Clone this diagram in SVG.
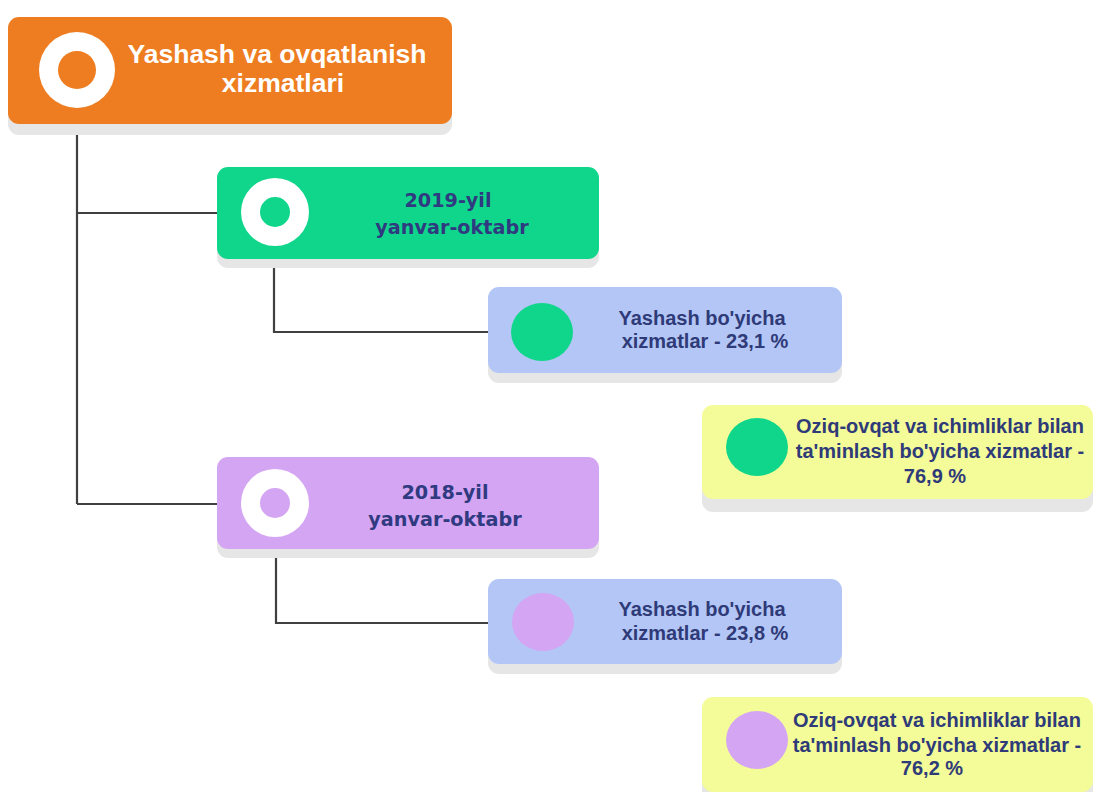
<svg xmlns="http://www.w3.org/2000/svg" width="1095" height="792" viewBox="0 0 1095 792">
<style>
.sh{fill:#e6e6e6}
.t{font-family:"Liberation Sans",Arial,sans-serif;font-weight:bold;text-anchor:middle}
.w{fill:#ffffff;font-size:26.5px}
.d{fill:#2f3a78;font-size:20px}
.y{font-family:"DejaVu Sans",sans-serif;font-weight:bold;text-anchor:middle;fill:#2f3a80;font-size:19.2px}
.c{fill:none;stroke:#404040;stroke-width:2.2}
</style>
<rect width="1095" height="792" fill="#ffffff"/>
<g id="connectors">
<path class="c" d="M77 124 V504 M77 213 H217 M77 504 H217"/>
<path class="c" d="M274 259 V332 H488"/>
<path class="c" d="M276 549 V623 H488"/>
</g>
<g id="root">
<rect class="sh" x="8" y="27" width="444" height="108" rx="11"/>
<rect x="8" y="17" width="444" height="107" rx="11" fill="#ee7d21"/>
<circle cx="77" cy="70" r="38" fill="#ffffff"/>
<circle cx="77" cy="70" r="19" fill="#ee7d21"/>
<text class="t w" x="277" y="63">Yashash va ovqatlanish</text>
<text class="t w" x="283" y="92">xizmatlari</text>
</g>
<g id="y2019">
<rect class="sh" x="217" y="176" width="382" height="92" rx="11"/>
<rect x="217" y="167" width="382" height="92" rx="11" fill="#10d68b"/>
<circle cx="275" cy="212" r="34" fill="#ffffff"/>
<circle cx="275" cy="212" r="15" fill="#10d68b"/>
<text class="y" x="448" y="207">2019-yil</text>
<text class="y" x="452" y="234">yanvar-oktabr</text>
</g>
<g id="y2019-yashash">
<rect class="sh" x="488" y="297" width="354" height="86" rx="11"/>
<rect x="488" y="287" width="354" height="86" rx="11" fill="#b3c6f5"/>
<ellipse cx="542" cy="332" rx="31" ry="29" fill="#10d68b"/>
<text class="t d" x="702" y="325">Yashash bo'yicha</text>
<text class="t d" x="705" y="348">xizmatlar - 23,1 %</text>
</g>
<g id="y2019-oziq">
<rect class="sh" x="702" y="415" width="391" height="97" rx="11"/>
<rect x="702" y="405" width="391" height="94" rx="11" fill="#f4fc99"/>
<ellipse cx="757" cy="447" rx="31" ry="29" fill="#10d68b"/>
<text class="t d" x="940" y="433">Oziq-ovqat va ichimliklar bilan</text>
<text class="t d" x="940" y="458">ta'minlash bo'yicha xizmatlar -</text>
<text class="t d" x="935" y="483">76,9 %</text>
</g>
<g id="y2018">
<rect class="sh" x="217" y="466" width="382" height="92" rx="11"/>
<rect x="217" y="457" width="382" height="92" rx="11" fill="#d4a5f3"/>
<circle cx="275" cy="503" r="34" fill="#ffffff"/>
<circle cx="275" cy="503" r="15" fill="#d4a5f3"/>
<text class="y" x="445" y="499">2018-yil</text>
<text class="y" x="445" y="526">yanvar-oktabr</text>
</g>
<g id="y2018-yashash">
<rect class="sh" x="488" y="589" width="354" height="85" rx="11"/>
<rect x="488" y="579" width="354" height="85" rx="11" fill="#b3c6f5"/>
<ellipse cx="543" cy="622" rx="31" ry="29" fill="#d4a5f3"/>
<text class="t d" x="702" y="616">Yashash bo'yicha</text>
<text class="t d" x="705" y="640">xizmatlar - 23,8 %</text>
</g>
<g id="y2018-oziq">
<rect class="sh" x="702" y="707" width="391" height="95" rx="11"/>
<rect x="702" y="697" width="391" height="95" rx="11" fill="#f4fc99"/>
<ellipse cx="757" cy="740" rx="31" ry="29" fill="#d4a5f3"/>
<text class="t d" x="937" y="727">Oziq-ovqat va ichimliklar bilan</text>
<text class="t d" x="937" y="752">ta'minlash bo'yicha xizmatlar -</text>
<text class="t d" x="932" y="775">76,2 %</text>
</g>
</svg>
